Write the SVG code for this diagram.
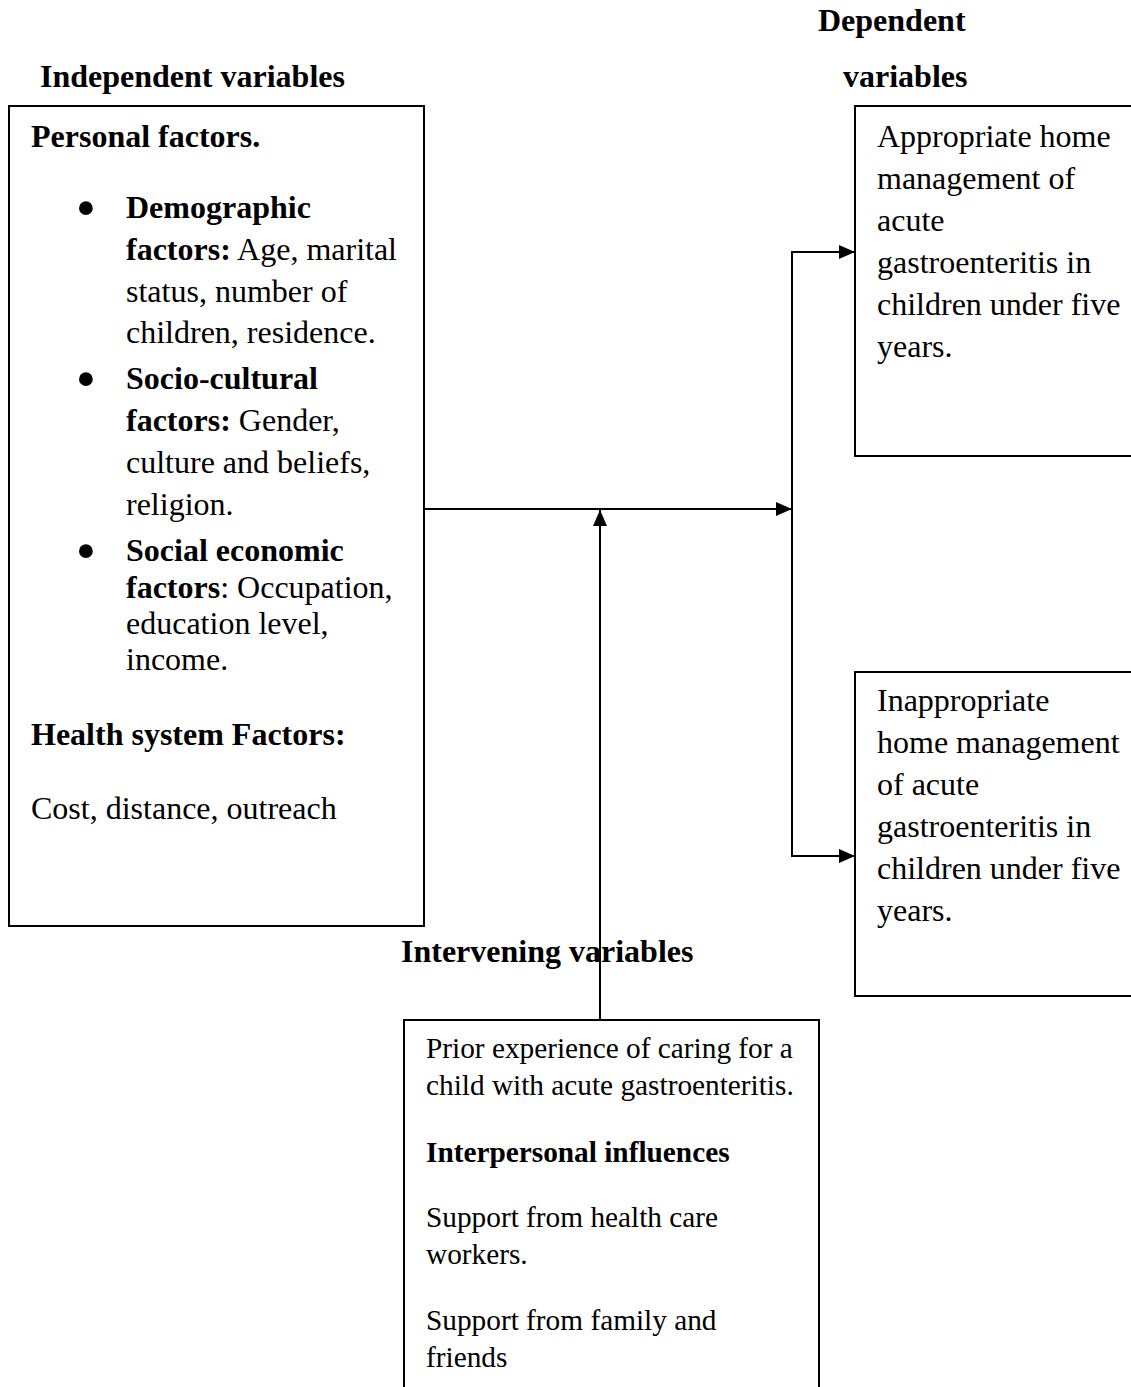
<svg xmlns="http://www.w3.org/2000/svg" width="1131" height="1387" viewBox="0 0 1131 1387">
<style>
text{font-family:"Liberation Serif","Times New Roman",serif;font-size:32px;fill:#000}
.b{font-weight:bold}
.s{font-size:29.3px}
.bul{font-size:58px;text-anchor:middle}
.box{fill:#fff;stroke:#000;stroke-width:2}
.ln{fill:none;stroke:#000;stroke-width:2}
</style>
<defs>
<marker id="ah" markerWidth="16" markerHeight="14" refX="16" refY="7" orient="auto" markerUnits="userSpaceOnUse">
<path d="M0,0 L16,7 L0,14 Z" fill="#000"/>
</marker>
</defs>
<rect width="1131" height="1387" fill="#fff"/>
<g id="labels">
<text class="b" x="40" y="87">Independent variables</text>
<text class="b" x="818" y="31">Dependent</text>
<text class="b" x="843" y="87">variables</text>
<text class="b" x="401" y="962">Intervening variables</text>
</g>
<g id="independent">
<rect class="box" x="9" y="106" width="415" height="820"/>
<text class="b" x="31" y="147">Personal factors.</text>
<text class="bul" x="86" y="227">•</text>
<text x="126" y="218" class="b">Demographic</text>
<text x="126" y="260"><tspan class="b">factors:</tspan> Age, marital</text>
<text x="126" y="302">status, number of</text>
<text x="126" y="343">children, residence.</text>
<text class="bul" x="86" y="398">•</text>
<text x="126" y="389" class="b">Socio-cultural</text>
<text x="126" y="431"><tspan class="b">factors:</tspan> Gender,</text>
<text x="126" y="473">culture and beliefs,</text>
<text x="126" y="515">religion.</text>
<text class="bul" x="86" y="570">•</text>
<text x="126" y="561" class="b">Social economic</text>
<text x="126" y="598"><tspan class="b">factors</tspan>: Occupation,</text>
<text x="126" y="634">education level,</text>
<text x="126" y="670">income.</text>
<text class="b" x="31" y="745">Health system Factors:</text>
<text x="31" y="819">Cost, distance, outreach</text>
</g>
<g id="appropriate">
<rect class="box" x="855" y="106" width="285" height="350"/>
<text x="877" y="147">Appropriate home</text>
<text x="877" y="189">management of</text>
<text x="877" y="231">acute</text>
<text x="877" y="273">gastroenteritis in</text>
<text x="877" y="315">children under five</text>
<text x="877" y="357">years.</text>
</g>
<g id="inappropriate">
<rect class="box" x="855" y="672" width="285" height="324"/>
<text x="877" y="711">Inappropriate</text>
<text x="877" y="753">home management</text>
<text x="877" y="795">of acute</text>
<text x="877" y="837">gastroenteritis in</text>
<text x="877" y="879">children under five</text>
<text x="877" y="921">years.</text>
</g>
<g id="intervening">
<rect class="box" x="404" y="1020" width="415" height="380"/>
<text class="s" x="426" y="1058">Prior experience of caring for a</text>
<text class="s" x="426" y="1095">child with acute gastroenteritis.</text>
<text class="s b" x="426" y="1162">Interpersonal influences</text>
<text class="s" x="426" y="1227">Support from health care</text>
<text class="s" x="426" y="1264">workers.</text>
<text class="s" x="426" y="1330">Support from family and</text>
<text class="s" x="426" y="1367">friends</text>
</g>
<g id="connectors">
<line class="ln" x1="424" y1="509" x2="792" y2="509" marker-end="url(#ah)"/>
<line class="ln" x1="792" y1="252" x2="792" y2="856"/>
<line class="ln" x1="791" y1="252" x2="855" y2="252" marker-end="url(#ah)"/>
<line class="ln" x1="791" y1="856" x2="855" y2="856" marker-end="url(#ah)"/>
<line class="ln" x1="600" y1="1020" x2="600" y2="510" marker-end="url(#ah)"/>
</g>
</svg>
